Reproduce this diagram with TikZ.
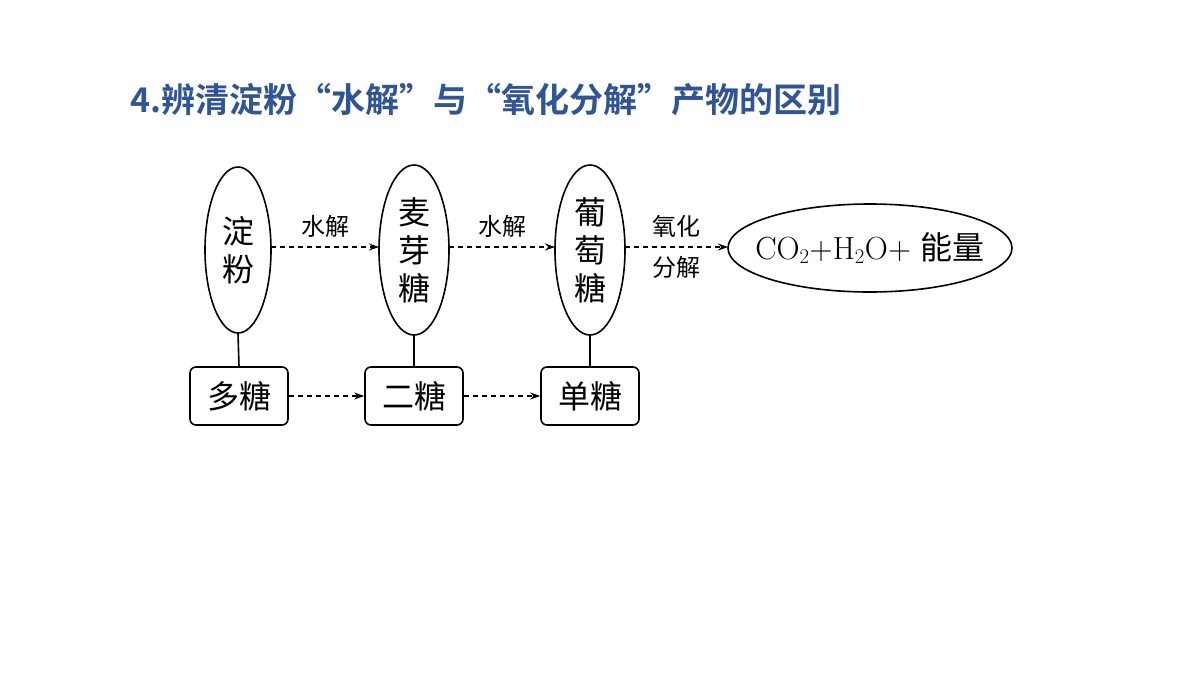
\documentclass[tikz,border=0pt]{standalone}
\usepackage{fontspec}
\newfontfamily\cjk{Noto Sans CJK SC}
\newfontfamily\cjkb{Noto Sans CJK SC Bold}
\usetikzlibrary{arrows.meta}
\definecolor{tblue}{HTML}{2F5597}
\begin{document}
\begin{tikzpicture}[x=1pt,y=-1pt,line width=1.6pt,
  box/.style={draw,rounded corners=6pt,minimum width=98pt,minimum height=58pt,font=\cjk\fontsize{32}{34}\selectfont},
  big/.style={font=\cjk\fontsize{32}{38}\selectfont,align=center},
  lab/.style={font=\cjk\fontsize{24}{28}\selectfont,align=center},
  arr/.style={dash pattern=on 5pt off 4pt,-{Stealth[length=10pt,width=7pt]}}]
\useasboundingbox (0,0) rectangle (1200,675);
\node[anchor=west,text=tblue,font=\cjkb\fontsize{34}{36}\selectfont] (t) at (126,100) {4.辨清淀粉“水解”与“氧化分解”产物的区别};
\draw (238,250) ellipse (33 and 83);
\node[big] (a) at (238,250) {淀\\粉};
\draw (414,250) ellipse (35 and 85);
\node[big] (b) at (414,250) {麦\\芽\\糖};
\draw (590,250) ellipse (35 and 85);
\node[big] (c) at (590,250) {葡\\萄\\糖};
\draw (870,248) ellipse (142 and 44);
\node[font=\fontsize{32}{34}\selectfont] (d) at (870,248) {CO$_2$+H$_2$O+ {\cjk 能量}};
\node[box] (p) at (239,396) {多糖};
\node[box] (q) at (414,396) {二糖};
\node[box] (r) at (590,396) {单糖};
\coordinate (a1) at (271,247); \coordinate (b0) at (379,247);
\coordinate (b1) at (449,247); \coordinate (c0) at (555,247);
\coordinate (c1) at (625,247); \coordinate (d0) at (728,247);
\draw[arr] (a1) -- (b0) node[midway,above=5pt,lab]{水解};
\draw[arr] (b1) -- (c0) node[midway,above=5pt,lab]{水解};
\draw[arr] (c1) -- (d0) node[midway,above=5pt,lab]{氧化} node[midway,below=5pt,lab]{分解};
\draw[arr] (p) -- (q);
\draw[arr] (q) -- (r);
\draw (238,333) -- (p.north);
\draw (414,335) -- (q.north);
\draw (590,335) -- (r.north);
\end{tikzpicture}
\end{document}
